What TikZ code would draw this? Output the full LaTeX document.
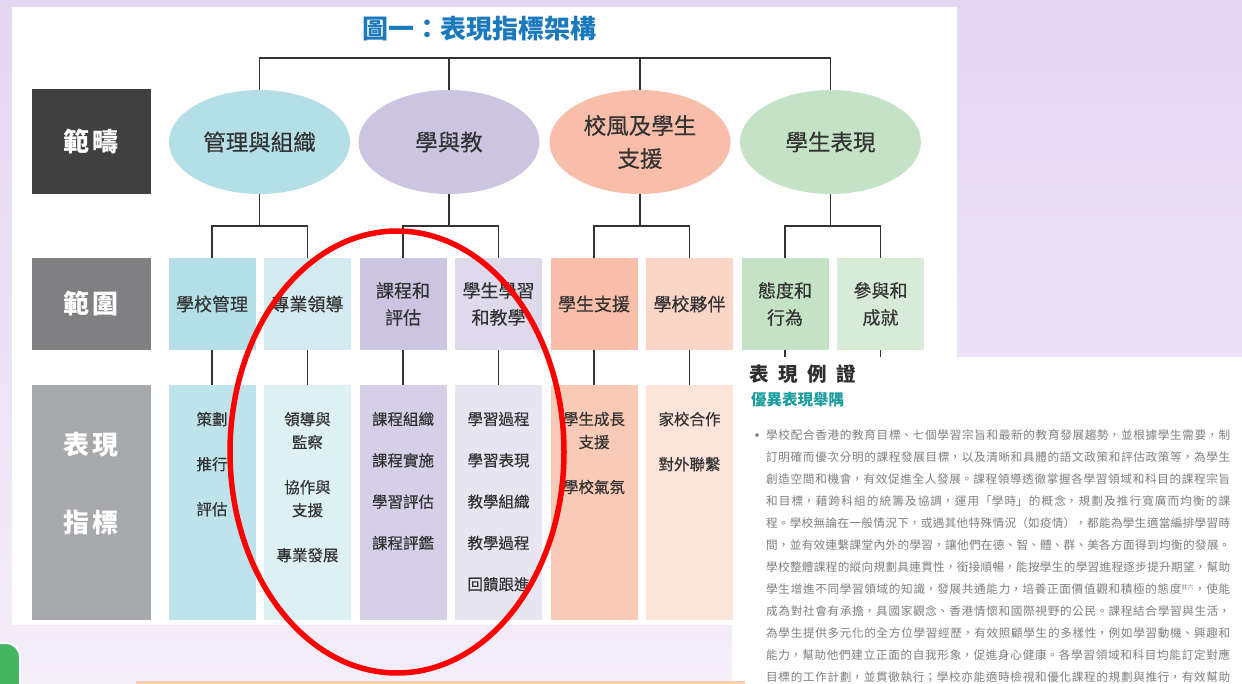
\documentclass[tikz,border=0pt]{standalone}
\usepackage{fontspec}
\setmainfont{Noto Sans CJK TC}
\newfontfamily\boxfont[FakeBold=0.4]{Noto Sans CJK TC}
\usetikzlibrary{shapes.geometric,positioning}
\definecolor{bgtop}{HTML}{E5D6F1}
\definecolor{bgbot}{HTML}{F4EEF9}
\definecolor{titleblue}{HTML}{1B79BD}
\definecolor{txtgrey}{HTML}{333333}
\definecolor{linkgrey}{HTML}{333333}
\definecolor{sideA}{HTML}{404040}
\definecolor{sideB}{HTML}{808083}
\definecolor{sideC}{HTML}{A7A8AB}
\definecolor{cyanA}{HTML}{B4DFE6}
\definecolor{cyanB}{HTML}{D3EBF0}
\definecolor{cyanC}{HTML}{BFE3EA}
\definecolor{cyanD}{HTML}{DDF0F4}
\definecolor{lilacA}{HTML}{CCC5E2}
\definecolor{lilacB}{HTML}{DEDAEC}
\definecolor{lilacC}{HTML}{D5D0E7}
\definecolor{lilacD}{HTML}{E8E5F2}
\definecolor{peachA}{HTML}{F9BEA9}
\definecolor{peachB}{HTML}{FBD6C7}
\definecolor{peachC}{HTML}{F9CAB6}
\definecolor{peachD}{HTML}{FDE4DA}
\definecolor{mintA}{HTML}{C4E2C6}
\definecolor{mintB}{HTML}{D8EBD9}
\definecolor{peachbar}{HTML}{F7CFB2}
\definecolor{tabgreen}{HTML}{45B563}
\definecolor{headgrey}{HTML}{2E2E2E}
\definecolor{subteal}{HTML}{1C9C9E}
\definecolor{bodygrey}{HTML}{7F7F7F}
\definecolor{markred}{HTML}{FE0000}

\begin{document}
\begin{tikzpicture}[x=1pt,y=-1pt,
    link/.style={draw=linkgrey,line width=1.4pt},
    catnode/.style={ellipse,minimum width=181pt,minimum height=104pt,inner sep=0pt,
                    align=center,text=txtgrey,font=\boxfont\fontsize{22.5}{33}\selectfont},
    fieldbox/.style={minimum width=87pt,minimum height=92pt,inner sep=0pt,
                     align=center,text=txtgrey,font=\boxfont\fontsize{18}{27}\selectfont},
    indbox/.style={minimum width=87pt,minimum height=235pt,inner sep=0pt},
    indtxt/.style={align=center,inner sep=0pt,text=txtgrey,font=\boxfont\fontsize{15.5}{23}\selectfont},
    sidebox/.style={minimum width=119.5pt,inner sep=0pt,align=center,text=white,
                    font=\bfseries\fontsize{26}{78}\selectfont},
    para/.style={anchor=north west,text width=464pt,inner sep=0pt,align=justify,
                 text=bodygrey,font=\fontsize{11.6}{22}\selectfont}]

  \useasboundingbox (0,0) rectangle (1242,684);
  \shade[top color=bgtop,bottom color=bgbot] (0,0) rectangle (1242,684);
  \fill[white] (12,7) rectangle (957,625);
  \fill[white] (732,357) rectangle (1242,684);
  \fill[peachbar] (136,681) rectangle (745,684);
  \draw[white,line width=2pt,fill=tabgreen,rounded corners=14pt] (-30,643) rectangle (20,720);

  \node[inner sep=0pt,text=titleblue,font=\bfseries\fontsize{26}{30}\selectfont] (title) at (479,29) {圖一：表現指標架構};

  \node[sidebox,fill=sideA,minimum height=105pt] (k1) at (91.3,141.5) {範\hspace{3pt}疇};
  \node[sidebox,fill=sideB,minimum height=92pt]  (k2) at (91.3,304)   {範\hspace{3pt}圍};
  \node[sidebox,fill=sideC,minimum height=235pt] (k3) at (91.3,502.5) {};
  \node[sidebox] (k3t) at ([yshift=18.5pt]k3.center) {表\hspace{3pt}現\\指\hspace{3pt}標};

  \node[catnode,fill=cyanA]  (e1) at (259.5,142) {管理與組織};
  \node[catnode,fill=lilacA] (e2) at (449,142)   {學與教};
  \node[catnode,fill=peachA] (e3) at (640,142)   {校風及學生\\支援};
  \node[catnode,fill=mintA]  (e4) at (830.5,142) {學生表現};

  \node[fieldbox,fill=cyanA]                     (d1) at (212,304) {學校管理};
  \node[fieldbox,fill=cyanB,right=8.1pt of d1]   (d2) {專業領導};
  \node[fieldbox,fill=lilacA,right=8.1pt of d2]  (d3) {課程和\\評估};
  \node[fieldbox,fill=lilacB,right=8.1pt of d3]  (d4) {學生學習\\和教學};
  \node[fieldbox,fill=peachA,right=8.1pt of d4]  (d5) {學生支援};
  \node[fieldbox,fill=peachB,right=8.1pt of d5]  (d6) {學校夥伴};
  \node[fieldbox,fill=mintA,right=8.1pt of d6]   (d7) {態度和\\行為};
  \node[fieldbox,fill=mintB,right=8.1pt of d7]   (d8) {參與和\\成就};

  \node[indbox,fill=cyanC,below=35pt of d1]  (i1) {};
  \node[indbox,fill=cyanD,below=35pt of d2]  (i2) {};
  \node[indbox,fill=lilacC,below=35pt of d3] (i3) {};
  \node[indbox,fill=lilacD,below=35pt of d4] (i4) {};
  \node[indbox,fill=peachC,below=35pt of d5] (i5) {};
  \node[indbox,fill=peachD,below=35pt of d6] (i6) {};

  \node[indtxt,below=26.5pt of i1.north] (t1) {策劃\\[22pt]推行\\[22pt]評估};
  \node[indtxt,below=26.5pt of i2.north] (t2) {領導與\\監察\\[22pt]協作與\\支援\\[22pt]專業發展};
  \node[indtxt,below=26.5pt of i3.north] (t3) {課程組織\\[18.3pt]課程實施\\[18.3pt]學習評估\\[18.3pt]課程評鑑};
  \node[indtxt,below=26.5pt of i4.north] (t4) {學習過程\\[18.3pt]學習表現\\[18.3pt]教學組織\\[18.3pt]教學過程\\[18.3pt]回饋跟進};
  \node[indtxt,below=26.5pt of i5.north] (t5) {學生成長\\支援\\[22pt]學校氣氛};
  \node[indtxt,below=26.5pt of i6.north] (t6) {家校合作\\[22pt]對外聯繫};

  \draw[link] (e1.north) -- (e1.north |- 0,58) -- (e4.north |- 0,58) -- (e4.north);
  \draw[link] (e2.north) -- (e2.north |- 0,58);
  \draw[link] (e3.north) -- (e3.north |- 0,58);
  \foreach \e/\a/\b in {e1/d1/d2,e2/d3/d4,e3/d5/d6,e4/d7/d8}
    \draw[link] (\e.south) -- (\e.south |- 0,226)
                (\a.north) |- (\e.south |- 0,226) -| (\b.north);
  \foreach \n in {1,...,6}
    \draw[link] (d\n) -- (i\n);
  \draw[link] (d7.south) -- ++(0,7) (d8.south) -- ++(0,7);

  \node[anchor=west,inner sep=0pt,text=headgrey,font=\bfseries\fontsize{19.5}{20}\selectfont] (exhead)
    at (749,374) {表\hspace{9.5pt}現\hspace{9.5pt}例\hspace{9.5pt}證};
  \node[anchor=west,inner sep=0pt,text=subteal,font=\bfseries\fontsize{15.5}{16}\selectfont] (exsub)
    at (751,400) {優異表現舉隅};
  \node[inner sep=0pt,text=bodygrey,font=\bfseries\fontsize{13}{13}\selectfont] (dot) at (757,437) {•};
  \node[para] (body) at (766,429.5) {\XeTeXlinebreaklocale "zh"\XeTeXlinebreakskip=0pt plus 3pt\parfillskip=0pt
    學校配合香港的教育目標、七個學習宗旨和最新的教育發展趨勢，並根據學生需要，制\linebreak
    訂明確而優次分明的課程發展目標，以及清晰和具體的語文政策和評估政策等，為學生\linebreak
    創造空間和機會，有效促進全人發展。課程領導透徹掌握各學習領域和科目的課程宗旨\linebreak
    和目標，藉跨科組的統籌及協調，運用「學時」的概念，規劃及推行寬廣而均衡的課\linebreak
    程。學校無論在一般情況下，或遇其他特殊情況（如疫情），都能為學生適當編排學習時\linebreak
    間，並有效連繫課堂內外的學習，讓他們在德、智、體、群、美各方面得到均衡的發展。\linebreak
    學校整體課程的縱向規劃具連貫性，銜接順暢，能按學生的學習進程逐步提升期望，幫助\linebreak
    學生增進不同學習領域的知識，發展共通能力，培養正面價值觀和積極的態度\textsuperscript{\fontsize{6}{6}\selectfont 註六}，使能\linebreak
    成為對社會有承擔，具國家觀念、香港情懷和國際視野的公民。課程結合學習與生活，\linebreak
    為學生提供多元化的全方位學習經歷，有效照顧學生的多樣性，例如學習動機、興趣和\linebreak
    能力，幫助他們建立正面的自我形象，促進身心健康。各學習領域和科目均能訂定對應\linebreak
    目標的工作計劃，並貫徹執行；學校亦能適時檢視和優化課程的規劃與推行，有效幫助\par};

  \draw[line width=5.5pt,draw=markred] (397,452) ellipse [x radius=167pt,y radius=221pt];
\end{tikzpicture}
\end{document}
